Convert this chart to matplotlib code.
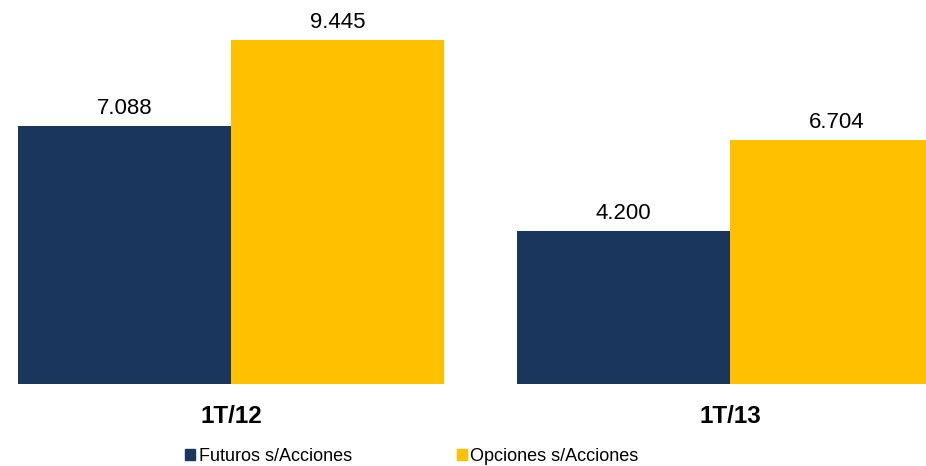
import matplotlib
matplotlib.use("Agg")
import matplotlib.pyplot as plt
from matplotlib.patches import Patch
import numpy as np

plt.rcParams['font.family'] = ['Liberation Sans', 'DejaVu Sans']

periods = ["1T/12", "1T/13"]
series = ["Futuros s/Acciones", "Opciones s/Acciones"]
futuros = [7.088, 4.200]
opciones = [9.445, 6.704]
colors = ["#1b365d", "#ffc000"]

fig = plt.figure(figsize=(9.26, 4.66), dpi=100)
ax = fig.add_axes([0, 0.176, 1, 0.824])

x = np.arange(len(periods))
w = 0.427
b1 = ax.bar(x - w / 2, futuros, w, color=colors[0])
b2 = ax.bar(x + w / 2, opciones, w, color=colors[1])

fmt = lambda v: f"{v:.3f}"
ax.bar_label(b1, labels=[fmt(v) for v in futuros], padding=5, fontsize=16)
ax.bar_label(b2, labels=[fmt(v) for v in opciones], padding=5, fontsize=16)

ax.set_xlim(-0.463, 1.393)
ax.set_ylim(0, 10.54)
ax.set_xticks(x)
ax.set_xticklabels(periods, fontsize=17.5, fontweight="bold")
ax.tick_params(axis="x", length=0, pad=15)
ax.set_yticks([])
for s in ax.spines.values():
    s.set_visible(False)

handles = [Patch(color=c, label=l) for c, l in zip(colors, series)]
fig.legend(handles=handles, loc="lower center", ncol=2, frameon=False,
           bbox_to_anchor=(0.445, -0.033), fontsize=13, handlelength=0.55,
           handleheight=0.55, handletextpad=0.2, columnspacing=5.8)

fig.savefig("out.png", dpi=100)
